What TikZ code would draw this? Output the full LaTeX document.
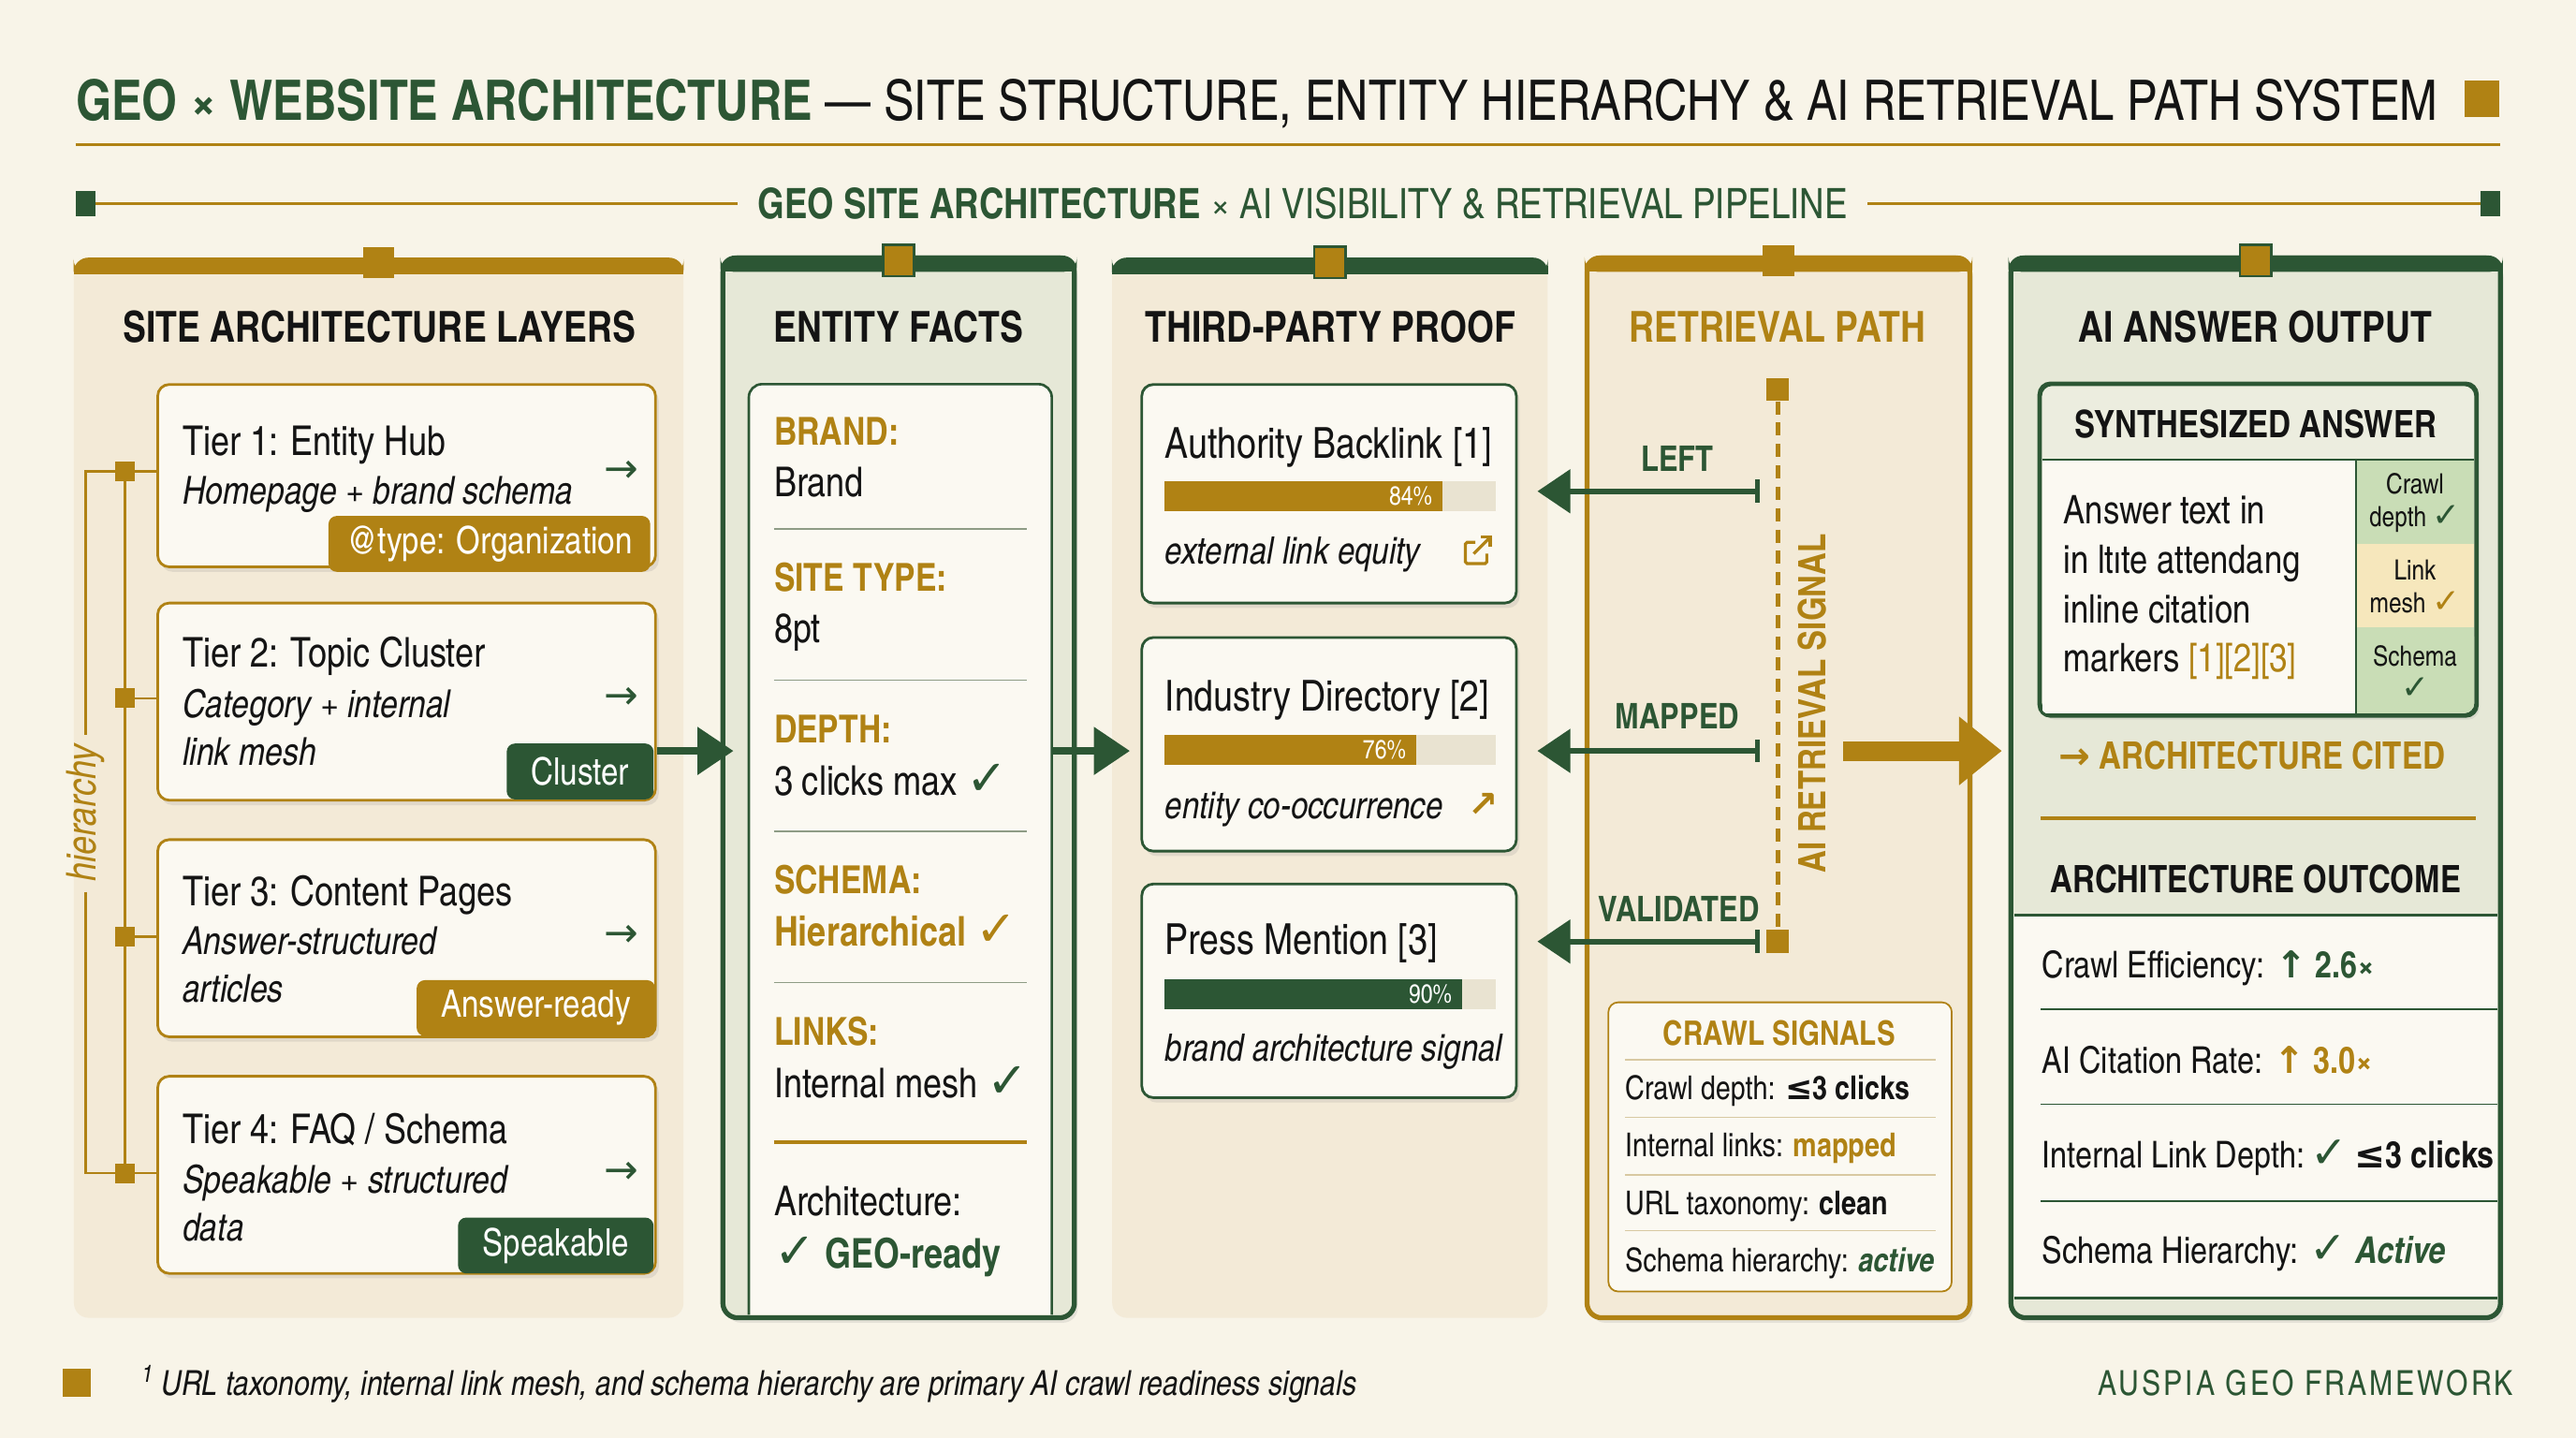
\documentclass[tikz,border=0pt]{standalone}
\usepackage{fontspec}
\usepackage{graphicx}
\setmainfont{texgyreheroscn}[Extension=.otf, UprightFont=*-regular, BoldFont=*-bold, ItalicFont=*-italic, BoldItalicFont=*-bolditalic]
\newfontfamily\symfont{DejaVu Sans}
\usetikzlibrary{arrows.meta,positioning,shadows}

\definecolor{paper}{HTML}{F8F4E8}
\definecolor{gold}{HTML}{B08214}
\definecolor{forest}{HTML}{2C5634}
\definecolor{sand}{HTML}{F3EAD7}
\definecolor{sage}{HTML}{E6E8D7}
\definecolor{card}{HTML}{FBF9F2}
\definecolor{trackfill}{HTML}{E9E3D1}
\definecolor{mint}{HTML}{C9DDB6}
\definecolor{butter}{HTML}{F6E7BC}
\definecolor{ink}{HTML}{141414}
\definecolor{rulegray}{HTML}{8E9C86}
\definecolor{rulesand}{HTML}{D8C9A2}

\newcommand{\fs}[2]{\fontsize{#1}{#2}\selectfont}
\newcommand{\chk}{{\symfont\bfseries\scalebox{1.2}{\char"2713}}}
\newcommand{\uparr}{{\symfont\char"2191}}
\newcommand{\rarr}{{\symfont\char"2192}}
\newcommand{\atmost}{{\symfont\char"2264}}

\begin{document}
\begin{tikzpicture}[
  x=1pt, y=-1pt,
  >=Latex,
  colpanel/.style={minimum width=#1, minimum height=645pt, inner sep=0pt, rounded corners=9pt},
  tab/.style={fill=gold, minimum size=19pt, inner sep=0pt},
  colhead/.style={font=\fs{26}{30}\bfseries, text=ink, inner sep=0pt},
  softshadow/.style={drop shadow={opacity=0.16, shadow xshift=2pt, shadow yshift=-3pt}},
  tierbox/.style={draw=gold, line width=1.6pt, fill=card, rounded corners=7pt, minimum width=303pt, minimum height=#1, inner sep=0pt, softshadow},
  tiertitle/.style={anchor=base west, inner sep=0pt, font=\fs{25}{29}, text=ink},
  tiernote/.style={anchor=base west, inner sep=0pt, align=left, font=\fs{23.5}{29}\itshape, text=ink},
  badge/.style={anchor=east, text=white, fill=#1, rounded corners=5pt, minimum height=34pt, inner xsep=15pt, font=\fs{23}{25}},
  nextmark/.style={font=\fs{25}{26}\symfont, text=forest, inner sep=0pt},
  junction/.style={fill=gold, minimum size=12pt, inner sep=0pt},
  hier/.style={draw=gold, line width=1.5pt},
  factkey/.style={anchor=base west, inner sep=0pt, font=\fs{23.5}{26}\bfseries, text=gold},
  factval/.style={anchor=base west, inner sep=0pt, font=\fs{25}{28}, text=ink},
  factsep/.style={draw=rulegray, line width=0.8pt},
  proofcard/.style={draw=forest, line width=1.6pt, fill=card, rounded corners=7pt, minimum width=228pt, minimum height=#1, inner sep=0pt, softshadow},
  cardtitle/.style={anchor=base west, inner sep=0pt, font=\fs{26}{28}, text=ink},
  cardnote/.style={anchor=base west, inner sep=0pt, font=\fs{23}{26}\itshape, text=ink},
  meter/.style={fill=trackfill, minimum width=201pt, minimum height=18pt, inner sep=0pt, anchor=west},
  pct/.style={anchor=east, inner sep=0pt, font=\fs{16}{18}, text=white},
  flow/.style={draw=forest, line width=5pt, arrows={-Triangle[length=22pt,width=28pt]}},
  push/.style={draw=gold, line width=12pt, arrows={-Triangle[length=26pt,width=40pt]}},
  pull/.style={draw=forest, line width=3.5pt, arrows={Bar[width=14pt,line width=2.5pt]-Triangle[length=20pt,width=26pt]}},
  pathtag/.style={font=\fs{21.5}{24}\bfseries, text=forest, inner sep=0pt},
  sigline/.style={anchor=base west, inner sep=0pt, font=\fs{20}{22}, text=ink},
  outrow/.style={anchor=base west, inner sep=0pt, font=\fs{22.5}{27}, text=ink}
]
\fill[paper] (0,0) rectangle (1568,875);
\useasboundingbox (0,0) rectangle (1568,875);

% Title block
\node[anchor=base west, inner sep=0pt, font=\fs{34}{40}, text=ink] (title) at (46,73)
  {\textcolor{forest}{\bfseries GEO × WEBSITE ARCHITECTURE} — SITE STRUCTURE, ENTITY HIERARCHY \& AI RETRIEVAL PATH SYSTEM};
\node[fill=gold, minimum width=21pt, minimum height=22pt, inner sep=0pt] (titlemark) at (1510.5,60) {};
\draw[gold, line width=2pt] (46,88) -- (1522,88);

\node[font=\fs{25.5}{30}, text=forest, inner xsep=12pt] (subtitle) at (793,124)
  {\textbf{GEO SITE ARCHITECTURE} × AI VISIBILITY \& RETRIEVAL PIPELINE};
\node[fill=forest, minimum width=12pt, minimum height=15pt, inner sep=0pt] (subleft) at (52,124) {};
\node[fill=forest, minimum width=12pt, minimum height=15pt, inner sep=0pt] (subright) at (1516,124) {};
\draw[gold, line width=2pt] (subleft.east) -- (subtitle.west);
\draw[gold, line width=2pt] (subtitle.east) -- (subright.west);

% Column 1: site architecture layers
\node[colpanel=371pt, fill=sand] (layers) at (230.5,479.5) {};
\fill[gold, rounded corners=9pt] (layers.north west) rectangle ([yshift=-10pt]layers.north east);
\fill[gold] ([yshift=-5pt]layers.north west) rectangle ([yshift=-10pt]layers.north east);
\node[tab] (layerstab) at ([yshift=-3pt]layers.north) {};
\node[colhead] (layershead) at (231,199) {SITE ARCHITECTURE LAYERS};

\node[tierbox=111pt] (tier1) at (247.5,289.5) {};
\node[tierbox=120pt] (tier2) at (247.5,427) {};
\node[tierbox=120pt] (tier3) at (247.5,571) {};
\node[tierbox=120pt] (tier4) at (247.5,715) {};

% multi-line notes sit on their last baseline
\node[tiertitle] (t1title) at (111,277) {Tier 1: Entity Hub};
\node[tiernote] (t1note) at (111,307) {Homepage + brand schema};
\node[tiertitle] (t2title) at (111,406) {Tier 2: Topic Cluster};
\node[tiernote] (t2note) at (111,466) {Category + internal\\link mesh};
\node[tiertitle] (t3title) at (111,551) {Tier 3: Content Pages};
\node[tiernote] (t3note) at (111,610) {Answer-structured\\articles};
\node[tiertitle] (t4title) at (111,696) {Tier 4: FAQ / Schema};
\node[tiernote] (t4note) at (111,755) {Speakable + structured\\data};

\node[nextmark] (t1next) at (378,287) {\char"2192};
\node[nextmark] (t2next) at (378,425) {\char"2192};
\node[nextmark] (t3next) at (378,570) {\char"2192};
\node[nextmark] (t4next) at (378,714) {\char"2192};

\node[badge=gold, inner xsep=11pt] (t1badge) at (396,331) {@type: Organization};
\node[badge=forest] (t2badge) at (398,469.5) {Cluster};
\node[badge=gold] (t3badge) at (399,613.5) {Answer-ready};
\node[badge=forest] (t4badge) at (398,758) {Speakable};

% hierarchy rail
\coordinate (hiertop) at (52,287);
\coordinate (hierbot) at (52,714);
\node[junction] (j1) at (76,287) {};
\node[junction] (j2) at (76,425) {};
\node[junction] (j3) at (76,570) {};
\node[junction] (j4) at (76,714) {};
\node[rotate=90, inner sep=6pt, font=\fs{25}{27}\itshape, text=gold] (hierlabel) at (52,495) {hierarchy};
\draw[hier] (j1.center) -- (j4.center);
\draw[hier] (j1.center) -- (j1 -| tier1.west);
\draw[hier] (j2.center) -- (j2 -| tier2.west);
\draw[hier] (j3.center) -- (j3 -| tier3.west);
\draw[hier] (j4.center) -- (j4 -| tier4.west);
\draw[hier] (j1.center) -- (hiertop) -- (hierlabel.east);
\draw[hier] (hierlabel.west) -- (hierbot) -- (j4.center);

% Column 2: entity facts
\node[colpanel=214pt, fill=sage, draw=forest, line width=3pt, softshadow] (facts) at (547,479.5) {};
\fill[forest, rounded corners=9pt] (facts.north west) rectangle ([yshift=-10pt]facts.north east);
\fill[forest] ([yshift=-5pt]facts.north west) rectangle ([yshift=-10pt]facts.north east);
\node[tab, draw=forest, line width=1.5pt] (factstab) at ([yshift=-3pt]facts.north) {};
\node[colhead] (factshead) at (547,199) {ENTITY FACTS};

\node[minimum width=184pt, minimum height=566pt, inner sep=0pt] (factsin) at (548,517) {};
\filldraw[fill=card, draw=forest, line width=1.5pt, rounded corners=8pt]
  (factsin.south west) -- (factsin.north west) -- (factsin.north east) -- (factsin.south east);

\node[factkey] (k1) at (471,271) {BRAND:};
\node[factval] (v1) at (471,302) {Brand};
\node[factkey] (k2) at (471,360) {SITE TYPE:};
\node[factval] (v2) at (471,391) {8pt};
\node[factkey] (k3) at (471,452) {DEPTH:};
\node[factval] (v3) at (471,484) {3 clicks max \textcolor{forest}{\chk}};
\node[factkey] (k4) at (471,544) {SCHEMA:};
\node[factkey, font=\fs{25}{28}\bfseries] (v4) at (471,576) {Hierarchical \chk};
\node[factkey] (k5) at (471,636) {LINKS:};
\node[factval] (v5) at (471,668) {Internal mesh \textcolor{forest}{\chk}};
\node[factval] (k6) at (471,740) {Architecture:};
\node[factval, text=forest] (v6) at (471,772) {\chk\ \textbf{GEO-ready}};
\foreach \sy in {322,414,506,598}
  \draw[factsep] (471,\sy) -- (625,\sy);
\draw[gold, line width=2.5pt] (471,695) -- (625,695);

% Column 3: third-party proof
\node[colpanel=265pt, fill=sand] (proof) at (809.5,479.5) {};
\fill[forest, rounded corners=9pt] (proof.north west) rectangle ([yshift=-10pt]proof.north east);
\fill[forest] ([yshift=-5pt]proof.north west) rectangle ([yshift=-10pt]proof.north east);
\node[tab, draw=forest, line width=1.5pt] (prooftab) at ([yshift=-3pt]proof.north) {};
\node[colhead] (proofhead) at (810,199) {THIRD-PARTY PROOF};

\node[proofcard=133pt] (card1) at (809,300.5) {};
\node[proofcard=130pt] (card2) at (809,453) {};
\node[proofcard=130pt] (card3) at (809,603) {};

\node[cardtitle] (c1title) at (709,279) {Authority Backlink [1]};
\node[meter] (m1) at (709,302) {};
\fill[gold] (m1.north west) rectangle ([xshift=168.8pt]m1.south west);
\node[pct] (p1) at (872,302) {84\%};
\node[cardnote] (c1note) at (709,343) {external link equity};
\draw[gold, line width=1.8pt, rounded corners=1pt] (898,330) -- (892,330) -- (892,343) -- (905,343) -- (905,337);
\draw[gold, line width=1.8pt, arrows={-Straight Barb[length=4pt]}] (897,337) -- (908,326);

\node[cardtitle] (c2title) at (709,433) {Industry Directory [2]};
\node[meter] (m2) at (709,456.5) {};
\fill[gold] (m2.north west) rectangle ([xshift=152.8pt]m2.south west);
\node[pct] (p2) at (856,456.5) {76\%};
\node[cardnote] (c2note) at (709,498) {entity co-occurrence};
\node[text=gold, font=\fs{22}{24}\symfont\bfseries, inner sep=0pt] (c2icon) at (903,490) {\char"2197};

\node[cardtitle] (c3title) at (709,581) {Press Mention [3]};
\node[meter] (m3) at (709,605) {};
\fill[forest] (m3.north west) rectangle ([xshift=180.9pt]m3.south west);
\node[pct] (p3) at (884,605) {90\%};
\node[cardnote] (c3note) at (709,646) {brand architecture signal};

% Column 4: retrieval path
\node[colpanel=233pt, fill=sand, draw=gold, line width=3pt, softshadow] (path) at (1082.5,479.5) {};
\fill[gold, rounded corners=9pt] (path.north west) rectangle ([yshift=-10pt]path.north east);
\fill[gold] ([yshift=-5pt]path.north west) rectangle ([yshift=-10pt]path.north east);
\node[tab] (pathtab) at ([yshift=-3pt]path.north) {};
\node[colhead, text=gold] (pathhead) at (1082,199) {RETRIEVAL PATH};

\node[fill=gold, minimum size=14pt, inner sep=0pt] (sigtop) at (1082,237) {};
\node[fill=gold, minimum size=14pt, inner sep=0pt] (sigbot) at (1082,573) {};
\draw[gold, line width=2.8pt, dash pattern=on 8pt off 5pt] (sigtop) -- (sigbot);
\node[rotate=90, font=\fs{23}{25}\bfseries, text=gold, inner sep=0pt] (sigtext) at (1103,428) {AI RETRIEVAL SIGNAL};

\coordinate (tapleft) at (1071,299);
\coordinate (tapmapped) at (1071,457);
\coordinate (tapvalid) at (1071,573);
\draw[pull] (tapleft) -- ([xshift=12pt]tapleft -| card1.east);
\draw[pull] (tapmapped) -- ([xshift=12pt]tapmapped -| card2.east);
\draw[pull] (tapvalid) -- ([xshift=12pt]tapvalid -| card3.east);
\node[pathtag] (lleft) at (1021,279) {LEFT};
\node[pathtag] (lmapped) at (1021,436) {MAPPED};
\node[pathtag] (lvalid) at (1022,553) {VALIDATED};

\node[draw=gold, line width=1pt, fill=card, rounded corners=6pt, minimum width=209pt, minimum height=176pt, inner sep=0pt] (crawl) at (1083.5,698) {};
\node[font=\fs{20.5}{23}\bfseries, text=gold, inner sep=0pt] (crawlhead) at (1083,629) {CRAWL SIGNALS};
\foreach \sy in {645,680,715,749}
  \draw[rulesand, line width=0.8pt] (989,\sy) -- (1178,\sy);
\node[sigline] (s1) at (989,669) {Crawl depth: \textbf{\atmost3 clicks}};
\node[sigline] (s2) at (989,704) {Internal links: \textcolor{gold}{\textbf{mapped}}};
\node[sigline] (s3) at (989,739) {URL taxonomy: \textbf{clean}};
\node[sigline] (s4) at (989,774) {Schema hierarchy: \textcolor{forest}{\bfseries\itshape active}};

% Column 5: AI answer output
\node[colpanel=298pt, fill=sage, draw=forest, line width=3pt, softshadow] (output) at (1373,479.5) {};
\fill[forest, rounded corners=9pt] (output.north west) rectangle ([yshift=-10pt]output.north east);
\fill[forest] ([yshift=-5pt]output.north west) rectangle ([yshift=-10pt]output.north east);
\node[tab, draw=forest, line width=1.5pt] (outputtab) at ([yshift=-3pt]output.north) {};
\node[colhead] (outputhead) at (1373,199) {AI ANSWER OUTPUT};

\node[draw=forest, line width=1.8pt, fill=sage!70!card, rounded corners=7pt, minimum width=265pt, minimum height=201pt, inner sep=0pt, softshadow] (answer) at (1374.5,334.5) {};
\fill[card] (1243,280) rectangle (1434,434);
\fill[mint] (1434,280) rectangle (1506,331);
\fill[butter] (1434,331) rectangle (1506,382);
\fill[mint, rounded corners=6pt] (1434,382) rectangle (1506,434);
\fill[mint] (1434,382) rectangle (1480,434);
\fill[mint] (1434,382) rectangle (1506,410);
\draw[forest, line width=1.8pt, rounded corners=7pt] (answer.north west) rectangle (answer.south east);
\draw[forest, line width=1.2pt] (1243,280) -- (1506,280);
\draw[forest, line width=1pt] (1434,280) -- (1434,434);
\node[font=\fs{23}{26}\bfseries, text=ink, inner sep=0pt] (answerhead) at (1373,258) {SYNTHESIZED ANSWER};
\node[anchor=base west, align=left, inner sep=0pt, font=\fs{24}{30}, text=ink] (answertext) at (1256,409)
  {Answer text in\\in ltıte attendang\\inline citation\\markers \textcolor{gold}{[1][2][3]}};
\node[align=center, inner sep=0pt, font=\fs{17}{20}, text=ink] (cell1) at (1470,306) {Crawl\\depth \textcolor{forest}{\chk}};
\node[align=center, inner sep=0pt, font=\fs{17}{20}, text=ink] (cell2) at (1470,357) {Link\\mesh \textcolor{gold}{\chk}};
\node[align=center, inner sep=0pt, font=\fs{17}{20}, text=ink] (cell3) at (1470,409) {Schema\\\textcolor{forest}{\chk}};

\node[anchor=base west, inner sep=0pt, font=\fs{23}{28}\bfseries, text=gold] (cited) at (1253,468) {\rarr\ ARCHITECTURE CITED};
\draw[gold, line width=2.5pt] (1242,498) -- (1507,498);
\node[font=\fs{23}{28}\bfseries, text=ink, inner sep=0pt] (outcomehead) at (1373,535) {ARCHITECTURE OUTCOME};

\fill[card] (1226,557) rectangle (1520,790);
\draw[forest, line width=1.5pt] (1226,557) -- (1520,557);
\draw[forest, line width=1.5pt] (1226,790) -- (1520,790);
\foreach \sy in {614,672,731}
  \draw[forest, line width=1pt] (1242,\sy) -- (1520,\sy);
\node[outrow] (o1) at (1243,595) {Crawl Efficiency: \textcolor{forest}{\bfseries\uparr\ 2.6×}};
\node[outrow] (o2) at (1243,653) {AI Citation Rate: \textcolor{gold}{\bfseries\uparr\ 3.0×}};
\node[outrow] (o3) at (1243,711) {Internal Link Depth:\,\textcolor{forest}{\chk}\,\textbf{\atmost3 clicks}};
\node[outrow] (o4) at (1243,769) {Schema Hierarchy: \textcolor{forest}{\chk\ \bfseries\itshape Active}};

% Pipeline arrows
\draw[flow] ([yshift=-30pt]tier2.east) -- ([xshift=8pt,yshift=-30pt]tier2.east -| facts.west);
\draw[flow] ([yshift=-30pt]tier2.east -| factsin.east) -- ([xshift=11pt,yshift=-30pt]tier2.east -| proof.west);
\coordinate (sigout) at (1122,457);
\draw[push] (sigout) -- ([xshift=-4pt]sigout -| output.west);

% Footer
\node[fill=gold, minimum size=17pt, inner sep=0pt] (footmark) at (46.5,841.5) {};
\node[anchor=base west, inner sep=0pt, font=\fs{21}{24}\itshape, text=ink] (footnote) at (86,849)
  {\textsuperscript{1} URL taxonomy, internal link mesh, and schema hierarchy are primary AI crawl readiness signals};
\node[anchor=base east, inner sep=0pt, font=\fs{21}{24}\addfontfeature{LetterSpace=8}, text=forest] (brandmark) at (1530,849) {AUSPIA GEO FRAMEWORK};
\end{tikzpicture}
\end{document}
